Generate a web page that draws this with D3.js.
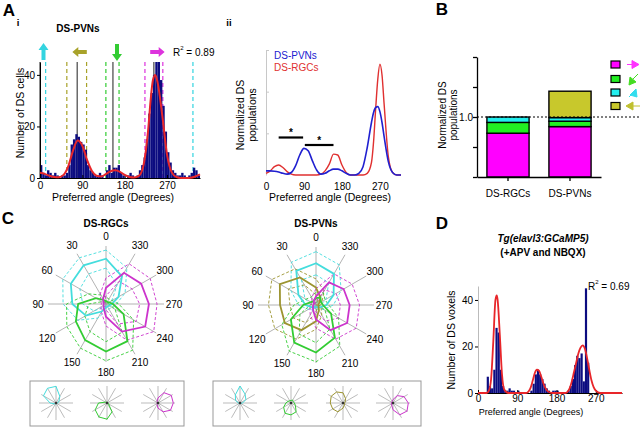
<!DOCTYPE html>
<html><head><meta charset="utf-8">
<script src="https://cdn.jsdelivr.net/npm/d3@7"></script>
<style>
body{margin:0;background:#fff;}
svg text{font-family:"Liberation Sans",Arial,Helvetica,sans-serif;}
</style></head>
<body><svg id="fig" width="640" height="428" xmlns="http://www.w3.org/2000/svg"></svg>
<script>
// ================= DATA =================
const angleTickValues = [0, 90, 180, 270];
const countTickValues = [0, 20, 40];

// Panel A-i : histogram of DS-PVN preferred angles (5 degree bins)
const aiBinStarts = d3.range(0, 340, 5);
const aiCounts = [5,2,1,3,2,1,2,1,0,1, 1,2,5,13,15,17,16,14,13,11, 5,3,2,1,1,2,1,0,3,5,
                  2,4,4,5,2,1,0,1,2,1, 0,1,3,5,8,15,25,33,40,46, 46,38,28,18,10,6,3,2,1,1,
                  2,1,0,1,2,4,3,1];
const aiFitAngles = [0,10,20,30,40,50,60,70,80,90,100,110,120,130,140,150,160,170,180,190,200,210,220,230,235,240,245,250,260,270,280,290,300,310,320,330,340];
const aiFitValues = [2,1.6,0.9,0.4,0.3,1.2,4.5,10.5,14.5,12.5,7,2.8,0.9,0.6,1.5,2.6,3,2.4,1.2,0.4,0.2,0.8,5,19,30,38,40,37,24,9,2.2,0.4,0,0,0.1,0.6,1.4];
const aiCenterAngles = [0, 79, 155, 242];
const aiBoundAngles = [12, 325, 57, 99, 140, 168, 223, 261];
const aiBoundGroups = ["cyan","cyan","olive","olive","green","green","magenta","magenta"];
const aiArrowGroups = ["cyan","olive","green","magenta"];
const aiArrowDirs = ["up","left","down","right"];
const aiRsq = "0.89";

// Panel A-ii : normalized populations
const aiiAngles = [0,10,20,30,40,50,60,70,80,90,100,110,120,130,140,150,160,170,180,190,200,210,220,230,240,250,255,260,265,270,275,280,290,300,310,320];
const aiiPVN = [0.05,0.05,0.045,0.035,0.02,0.01,0.03,0.11,0.24,0.32,0.29,0.17,0.06,0.01,0.02,0.05,0.07,0.07,0.05,0.02,0,0,0.02,0.1,0.33,0.63,0.75,0.81,0.82,0.76,0.63,0.46,0.16,0.03,0,0];
const aiiRGC = [0.02,0.05,0.1,0.12,0.09,0.04,0.01,0,0,0,0,0,0,0.01,0.05,0.13,0.25,0.24,0.12,0.03,0,0,0,0,0.02,0.15,0.4,0.8,1.15,1.33,1.2,0.85,0.22,0.03,0,0];
const aiiSeriesNames = ["DS-PVNs","DS-RGCs"];
const aiiSigPairs = [[30, 88], [92, 160]];
const aiiSigLevels = [0.45, 0.36];

// Panel B : stacked normalized populations
const bCategories = ["DS-RGCs","DS-PVNs"];
const bKeys = ["magenta","green","cyan","olive"];
const bMagenta = [0.73, 0.84];
const bGreen = [0.18, 0.09];
const bCyan = [0.09, 0.06];
const bOlive = [0, 0.44];
const bTickValues = [0, 0.5, 1, 1.5, 2];
const bTickLabels = ["", "", "1.0", "", ""];

// Panel C : polar tuning curves (12 directions)
const polarAngles = [0,30,60,90,120,150,180,210,240,270,300,330];
const rgcCyanMean = [0.78,0.77,0.70,0.58,0.40,0.15,0.06,0.05,0.06,0.10,0.25,0.55];
const rgcCyanHi   = [0.93,0.92,0.86,0.74,0.56,0.28,0.12,0.10,0.12,0.18,0.38,0.72];
const rgcCyanLo   = [0.62,0.60,0.52,0.40,0.24,0.06,0.02,0.02,0.02,0.04,0.12,0.38];
const rgcGreenMean = [0.05,0.08,0.20,0.48,0.60,0.72,0.82,0.74,0.35,0.12,0.06,0.04];
const rgcGreenHi   = [0.12,0.18,0.35,0.68,0.78,0.88,0.98,0.92,0.55,0.22,0.12,0.10];
const rgcGreenLo   = [0.02,0.03,0.08,0.30,0.42,0.55,0.65,0.56,0.18,0.05,0.02,0.02];
const rgcMagMean = [0.28,0.10,0.05,0.04,0.05,0.08,0.22,0.55,0.78,0.74,0.70,0.62];
const rgcMagHi   = [0.45,0.20,0.10,0.08,0.10,0.16,0.38,0.72,0.95,0.88,0.88,0.80];
const rgcMagLo   = [0.14,0.04,0.02,0.02,0.02,0.03,0.10,0.40,0.60,0.58,0.52,0.45];

const pvnCyanMean = [0.72,0.68,0.35,0.18,0.08,0.05,0.04,0.04,0.08,0.18,0.35,0.62];
const pvnCyanHi   = [0.92,0.85,0.50,0.30,0.15,0.10,0.08,0.08,0.15,0.30,0.50,0.80];
const pvnCyanLo   = [0.52,0.50,0.22,0.08,0.03,0.02,0.02,0.02,0.03,0.08,0.20,0.44];
const pvnOliveMean = [0.30,0.55,0.72,0.62,0.62,0.50,0.28,0.10,0.05,0.04,0.06,0.15];
const pvnOliveHi   = [0.45,0.72,0.88,0.82,0.82,0.68,0.42,0.20,0.10,0.08,0.12,0.28];
const pvnOliveLo   = [0.18,0.40,0.55,0.45,0.45,0.35,0.15,0.04,0.02,0.02,0.02,0.06];
const pvnGreenMean = [0.12,0.08,0.10,0.22,0.50,0.75,0.82,0.65,0.30,0.12,0.10,0.15];
const pvnGreenHi   = [0.22,0.16,0.20,0.38,0.68,0.92,0.98,0.82,0.45,0.22,0.18,0.25];
const pvnGreenLo   = [0.05,0.03,0.04,0.10,0.32,0.58,0.65,0.48,0.18,0.05,0.04,0.06];
const pvnMagMean = [0.15,0.08,0.04,0.05,0.06,0.10,0.25,0.50,0.62,0.58,0.55,0.45];
const pvnMagHi   = [0.28,0.15,0.08,0.10,0.12,0.20,0.40,0.68,0.80,0.75,0.72,0.62];
const pvnMagLo   = [0.06,0.03,0.02,0.02,0.02,0.04,0.12,0.32,0.45,0.42,0.40,0.30];

// example single cells (mini polar plots)
const exRgcCyan    = [0.98,1.0,0.85,0.35,0.10,0.05,0.05,0.05,0.05,0.10,0.20,0.45];
const exRgcGreen   = [0.05,0.05,0.10,0.50,0.80,0.95,0.95,0.60,0.10,0.05,0.05,0.05];
const exRgcMagenta = [0.30,0.10,0.05,0.05,0.05,0.10,0.30,0.60,0.85,0.90,0.90,0.70];
const exPvnCyan    = [1.0,0.55,0.30,0.10,0.05,0.05,0.05,0.05,0.05,0.15,0.40,0.60];
const exPvnGreen   = [0.15,0.15,0.20,0.30,0.50,0.70,0.70,0.60,0.30,0.20,0.15,0.20];
const exPvnOlive   = [0.60,0.75,0.80,0.75,0.70,0.60,0.30,0.15,0.10,0.10,0.15,0.30];
const exPvnMagenta = [0.20,0.10,0.10,0.10,0.10,0.15,0.40,0.80,0.95,0.90,0.75,0.50];

// Panel D : histogram of DS voxels (5 degree bins)
const dBinStarts = d3.range(20, 255, 5);
const dCounts = [7,3,2,10,28,26,10,3,1,1, 2,1,1,0,1,0,0,0,0,0, 1,4,8,10,8,6,4,2,1,0,
                 1,1,1,0,0,0,0,1,3,6, 12,16,15,17,5,45,13];
const dFitAngles = [0,20,25,30,35,40,43,45,50,55,60,70,110,115,120,125,130,135,140,145,150,155,160,170,200,205,210,215,220,225,230,235,240,245,250,255,260,265,270,280,330];
const dFitValues = [0,0,1,6,22,40,42,40,25,8,1.5,0,0,0.5,2,5,8.5,10,9.5,7,4,2,0.7,0,0,0.5,2,5,9,13,17,19.5,20.5,19,15,10,5.5,2.5,1,0,0];
const dRsq = "0.69";

// ================= STYLE =================
const COL = {cyan:"#33d4e0", olive:"#a8a22a", green:"#33cc33", magenta:"#dd33dd"};
const BCOL = {magenta:"#ff00ff", green:"#22ee22", cyan:"#22eeee", olive:"#c8c82c"};
const PCOL = {cyan:"#44dddd", green:"#33cc33", magenta:"#cc33cc", olive:"#9c9430"};
const NAVY = "#0c0c80", RED = "#e8262a";
const FS = 10;

const svg = d3.select("#fig");

function label(x, y, s, o = {}) {
  const t = svg.append("text").attr("x", x).attr("y", y).text(s)
    .attr("font-size", o.size || FS)
    .attr("font-weight", o.weight || "normal")
    .attr("font-style", o.style || "normal")
    .attr("text-anchor", o.anchor || "middle")
    .attr("fill", o.fill || "#000")
    .attr("dominant-baseline", "central");
  if (o.rotate) t.attr("transform", `rotate(-90,${x},${y})`);
  return t;
}
function styleAxis(g, size) {
  g.attr("font-family", null);
  g.selectAll("text").attr("font-size", size || FS).attr("fill", "#000");
}
function rsq(x, y, val) {
  const t = svg.append("text").attr("x", x).attr("y", y).attr("font-size", FS).attr("dominant-baseline","central");
  t.append("tspan").text("R");
  t.append("tspan").text("2").attr("font-size", 6).attr("dy", -4);
  t.append("tspan").text(" = " + val).attr("dy", 4);
}

// ================= PANEL A-i =================
label(9, 10, "A", {size: 17, weight: "bold"});
label(18, 22, "i", {size: 9.5, weight: "bold"});
label(78, 28, "DS-PVNs", {size: 10, weight: "bold"});

const xA = d3.scaleLinear().domain([0, 340]).range([40, 200]);
const yA = d3.scaleLinear().domain([0, 45]).range([178, 62]);
const gA = svg.append("g");

aiBoundAngles.forEach((a, i) => {
  gA.append("line").attr("x1", xA(a)).attr("x2", xA(a)).attr("y1", yA(45)).attr("y2", yA(0))
    .attr("stroke", COL[aiBoundGroups[i]]).attr("stroke-width", 1.2).attr("stroke-dasharray", "4,3");
});
aiCenterAngles.forEach(a => {
  gA.append("line").attr("x1", xA(a)).attr("x2", xA(a)).attr("y1", yA(45)).attr("y2", yA(0))
    .attr("stroke", "#333").attr("stroke-width", 1.1);
});
gA.selectAll("rect.bar").data(aiBinStarts).join("rect")
  .attr("x", d => xA(d)).attr("width", d => xA(d + 5) - xA(d))
  .attr("y", (d, i) => yA(Math.min(aiCounts[i], 45))).attr("height", (d, i) => yA(0) - yA(Math.min(aiCounts[i], 45)))
  .attr("fill", NAVY);
const axAy = gA.append("g").attr("transform", `translate(${xA(0)},0)`)
  .call(d3.axisLeft(yA).tickValues(countTickValues).tickSizeInner(3).tickSizeOuter(0).tickPadding(2));
styleAxis(axAy);
const axAx = gA.append("g").attr("transform", `translate(0,${yA(0)})`)
  .call(d3.axisBottom(xA).tickValues(angleTickValues).tickSizeInner(-3).tickSizeOuter(0).tickPadding(4));
styleAxis(axAx);
gA.append("path").datum(aiFitAngles)
  .attr("d", d3.line().x(d => xA(d)).y((d, i) => yA(aiFitValues[i])).curve(d3.curveMonotoneX))
  .attr("fill", "none").attr("stroke", RED).attr("stroke-width", 2);
const arrowX = {cyan: 43.5, olive: 80, green: 117, magenta: 157};
aiArrowGroups.forEach((grp, i) => {
  const cx = arrowX[grp], cy = 52, dir = aiArrowDirs[i];
  const p = "M0,-9 L-5,-2 L-2,-2 L-2,8 L2,8 L2,-2 L5,-2 Z";
  const rot = {up: 0, right: 90, down: 180, left: -90}[dir];
  gA.append("path").attr("d", p).attr("fill", COL[grp])
    .attr("transform", `translate(${cx},${cy}) rotate(${rot}) scale(1,${dir === "up" || dir === "down" ? 1 : 0.85})`);
});
rsq(173, 52, aiRsq);
label(20, 113, "Number of DS cells", {size: 10.5, rotate: true});
label(113, 197, "Preferred angle (Degrees)", {size: 10.5});

// ================= PANEL A-ii =================
label(229, 22, "ii", {size: 9.5, weight: "bold"});
const xB = d3.scaleLinear().domain([0, 320]).range([266, 401]);
const yB = d3.scaleLinear().domain([0, 1.5]).range([175, 50]);
const gB = svg.append("g");
const axBy = gB.append("g").attr("transform", `translate(${xB(0)},0)`)
  .call(d3.axisRight(yB).tickValues([0.5, 1, 1.5]).tickSizeInner(3).tickSizeOuter(0).tickFormat(""));
axBy.selectAll("path,line").attr("stroke", "#c8c8c8");
const axBx = gB.append("g").attr("transform", `translate(0,${yB(0)})`)
  .call(d3.axisBottom(xB).tickValues(angleTickValues).tickSize(0).tickPadding(8));
axBx.select(".domain").remove();
styleAxis(axBx);
const lineB = arr => d3.line().x(d => xB(d)).y((d, i) => yB(arr[i])).curve(d3.curveMonotoneX)(aiiAngles);
gB.append("path").attr("d", lineB(aiiRGC)).attr("fill", "none").attr("stroke", "#e03030").attr("stroke-width", 1.4);
gB.append("path").attr("d", lineB(aiiPVN)).attr("fill", "none").attr("stroke", "#2020d0").attr("stroke-width", 1.6);
aiiSigPairs.forEach((p, i) => {
  gB.append("line").attr("x1", xB(p[0])).attr("x2", xB(p[1])).attr("y1", yB(aiiSigLevels[i])).attr("y2", yB(aiiSigLevels[i]))
    .attr("stroke", "#000").attr("stroke-width", 2.2);
  label((xB(p[0]) + xB(p[1])) / 2, yB(aiiSigLevels[i]) - 5, "*", {size: 10, weight: "bold"});
});
label(274, 55, aiiSeriesNames[0], {size: 10, anchor: "start", fill: "#2020d0"});
label(274, 67, aiiSeriesNames[1], {size: 10, anchor: "start", fill: "#e03030"});
label(240, 115, "Normalized DS", {size: 10.5, rotate: true});
label(252, 115, "populations", {size: 10.5, rotate: true});
label(330, 197, "Preferred angle (Degrees)", {size: 10.5});

// ================= PANEL B =================
label(442, 9, "B", {size: 17, weight: "bold"});
const yC = d3.scaleLinear().domain([0, 2]).range([177, 57]);
const xC = d3.scaleBand().domain(bCategories).range([477, 601]).paddingInner(0.32).paddingOuter(0.16);
const bRows = bCategories.map((c, i) => ({cat: c, magenta: bMagenta[i], green: bGreen[i], cyan: bCyan[i], olive: bOlive[i]}));
const stack = d3.stack().keys(bKeys)(bRows);
const gC = svg.append("g");
stack.forEach(layer => {
  gC.selectAll(null).data(layer.filter(d => d[1] - d[0] > 0)).join("rect")
    .attr("x", d => xC(d.data.cat)).attr("width", xC.bandwidth())
    .attr("y", d => yC(d[1])).attr("height", d => yC(d[0]) - yC(d[1]))
    .attr("fill", BCOL[layer.key]).attr("stroke", "#000").attr("stroke-width", 1.4);
});
const axCy = gC.append("g").attr("transform", `translate(477,0)`)
  .call(d3.axisLeft(yC).tickValues(bTickValues).tickFormat((d, i) => bTickLabels[i]).tickSizeInner(4).tickSizeOuter(0).tickPadding(0));
axCy.selectAll("path,line").attr("stroke-width", 1.3);
styleAxis(axCy, 10);
const axCx = gC.append("g").attr("transform", `translate(0,177)`)
  .call(d3.axisBottom(xC).tickSizeInner(4).tickSizeOuter(0).tickPadding(9));
axCx.selectAll("path,line").attr("stroke-width", 1.3);
styleAxis(axCx, 10);
gC.append("line").attr("x1", 477).attr("x2", 640).attr("y1", yC(1)).attr("y2", yC(1))
  .attr("stroke", "#000").attr("stroke-width", 1).attr("stroke-dasharray", "2,2");
label(442, 115, "Normalized DS", {size: 10, rotate: true});
label(453, 115, "populations", {size: 10, rotate: true});
const legY = [64.5, 79, 92.5, 106];
bKeys.forEach((k, i) => {
  gC.append("rect").attr("x", 611).attr("y", legY[i] - 3.5).attr("width", 9).attr("height", 7)
    .attr("fill", BCOL[k]).attr("stroke", "#000").attr("stroke-width", 1.2);
});
const legArrow = {
  magenta: "M627,64.5 L632,64.5 M632,60.5 L639,64.5 L632,68.5 Z",
  green: "M638,74 L633,79 M630,77 L636,82 L629,85 Z",
  cyan: "M629,97 L633,93 M630,95 L636,89 L637,97 Z",
  olive: "M640,106 L633,106 M633,102 L626,106 L633,110 Z"
};
const legCol = {magenta: "#ff33ff", green: "#44dd22", cyan: "#33ddee", olive: "#c0c030"};
bKeys.forEach(k => {
  gC.append("path").attr("d", legArrow[k]).attr("fill", legCol[k]).attr("stroke", legCol[k]).attr("stroke-width", 1);
});

// ================= PANEL C =================
label(8, 218, "C", {size: 17, weight: "bold"});
label(106, 223, "DS-RGCs", {size: 10, weight: "bold"});
label(316, 223, "DS-PVNs", {size: 10, weight: "bold"});

function drawPolar(cx, cy, R, series, opts) {
  const g = svg.append("g").attr("transform", `translate(${cx},${cy})`);
  const r = d3.scaleLinear().domain([0, 1]).range([0, R]);
  polarAngles.forEach(a => {
    const t = a * Math.PI / 180;
    g.append("line").attr("x1", 0).attr("y1", 0)
      .attr("x2", -R * Math.sin(t)).attr("y2", -R * Math.cos(t))
      .attr("stroke", opts.spoke).attr("stroke-width", opts.spokeW);
  });
  const line = d3.lineRadial().angle((d, i) => -polarAngles[i] * Math.PI / 180).radius(d => r(d)).curve(d3.curveLinearClosed);
  series.forEach(s => {
    if (s.hi) {
      [s.hi, s.lo].forEach(arr => g.append("path").attr("d", line(arr)).attr("fill", "none")
        .attr("stroke", s.color).attr("stroke-width", 0.9).attr("stroke-dasharray", "3,2"));
    }
  });
  series.forEach(s => {
    g.append("path").attr("d", line(s.mean)).attr("fill", "none").attr("stroke", s.color).attr("stroke-width", opts.meanW);
  });
  if (opts.labels) {
    polarAngles.forEach(a => {
      const t = a * Math.PI / 180;
      g.append("text").attr("x", -opts.labelR * Math.sin(t)).attr("y", -opts.labelR * Math.cos(t))
        .attr("text-anchor", "middle").attr("dominant-baseline", "central").attr("font-size", 10).text(a);
    });
  }
  if (opts.dot) g.append("circle").attr("r", 1.3).attr("fill", "#333");
}

drawPolar(106, 304, 58, [
  {color: PCOL.cyan, mean: rgcCyanMean, hi: rgcCyanHi, lo: rgcCyanLo},
  {color: PCOL.green, mean: rgcGreenMean, hi: rgcGreenHi, lo: rgcGreenLo},
  {color: PCOL.magenta, mean: rgcMagMean, hi: rgcMagHi, lo: rgcMagLo}
], {spoke: "#a0a0a0", spokeW: 0.8, meanW: 1.8, labels: true, labelR: 68});

drawPolar(316, 305, 58, [
  {color: PCOL.cyan, mean: pvnCyanMean, hi: pvnCyanHi, lo: pvnCyanLo},
  {color: PCOL.olive, mean: pvnOliveMean, hi: pvnOliveHi, lo: pvnOliveLo},
  {color: PCOL.green, mean: pvnGreenMean, hi: pvnGreenHi, lo: pvnGreenLo},
  {color: PCOL.magenta, mean: pvnMagMean, hi: pvnMagHi, lo: pvnMagLo}
], {spoke: "#a0a0a0", spokeW: 0.8, meanW: 1.8, labels: true, labelR: 68});

svg.append("rect").attr("x", 30).attr("y", 381).attr("width", 154).attr("height", 45)
  .attr("fill", "none").attr("stroke", "#999").attr("stroke-width", 1);
svg.append("rect").attr("x", 213).attr("y", 381).attr("width", 208).attr("height", 45)
  .attr("fill", "none").attr("stroke", "#999").attr("stroke-width", 1);
const miniOpts = {spoke: "#aaaaaa", spokeW: 0.8, meanW: 1, labels: false, dot: true};
drawPolar(56, 403, 17, [{color: PCOL.cyan, mean: exRgcCyan}], miniOpts);
drawPolar(107, 403, 17, [{color: PCOL.green, mean: exRgcGreen}], miniOpts);
drawPolar(158, 403, 17, [{color: PCOL.magenta, mean: exRgcMagenta}], miniOpts);
drawPolar(240, 403, 17, [{color: PCOL.cyan, mean: exPvnCyan}], miniOpts);
drawPolar(291, 403, 17, [{color: PCOL.green, mean: exPvnGreen}], miniOpts);
drawPolar(343, 403, 17, [{color: PCOL.olive, mean: exPvnOlive}], miniOpts);
drawPolar(393, 403, 17, [{color: PCOL.magenta, mean: exPvnMagenta}], miniOpts);

// ================= PANEL D =================
label(442, 223, "D", {size: 17, weight: "bold"});
label(543, 238, "Tg(elavl3:GCaMP5)", {size: 10, weight: "bold", style: "italic"});
label(543, 252, "(+APV and NBQX)", {size: 10, weight: "bold"});
const xD = d3.scaleLinear().domain([0, 330]).range([478, 622]);
const yD = d3.scaleLinear().domain([0, 46]).range([393, 286]);
const gD = svg.append("g");
gD.selectAll("rect").data(dBinStarts).join("rect")
  .attr("x", d => xD(d)).attr("width", d => xD(d + 5) - xD(d))
  .attr("y", (d, i) => yD(dCounts[i])).attr("height", (d, i) => yD(0) - yD(dCounts[i]))
  .attr("fill", NAVY);
const axDy = gD.append("g").attr("transform", `translate(${xD(0)},0)`)
  .call(d3.axisLeft(yD).tickValues(countTickValues).tickSizeInner(3).tickSizeOuter(0).tickPadding(2));
axDy.select(".domain").attr("stroke", "#bbb");
styleAxis(axDy);
const axDx = gD.append("g").attr("transform", `translate(0,${yD(0)})`)
  .call(d3.axisBottom(xD).tickValues(angleTickValues).tickSizeInner(-3).tickSizeOuter(0).tickPadding(2));
styleAxis(axDx);
gD.append("path").datum(dFitAngles)
  .attr("d", d3.line().x(d => xD(d)).y((d, i) => yD(dFitValues[i])).curve(d3.curveMonotoneX))
  .attr("fill", "none").attr("stroke", RED).attr("stroke-width", 1.8);
rsq(588, 286, dRsq);
label(451, 340, "Number of DS voxels", {size: 10.5, rotate: true});
label(531, 412, "Preferred angle (Degrees)", {size: 9});
</script></body></html>
